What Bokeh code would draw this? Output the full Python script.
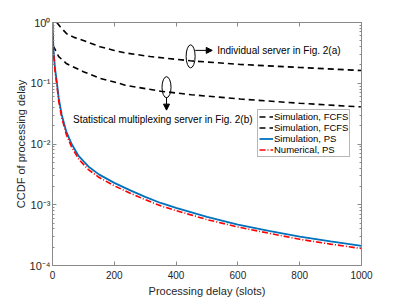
from bokeh.plotting import figure
from bokeh.models import (LinearAxis, LogAxis, Legend, LegendItem, Arrow, NormalHead,
                          Label, CustomJSTickFormatter, FixedTicker, Range1d, LogTicker)
from bokeh.embed import file_html
from bokeh.resources import INLINE

# ---- data ----
x_fcfs_ind = [14, 25, 46, 70, 100, 154, 200, 235, 316, 446, 608, 800, 1000]
ccdf_fcfs_ind = [1.0, 0.85, 0.653, 0.569, 0.507, 0.398, 0.347, 0.316, 0.275, 0.234, 0.204, 0.182, 0.162]

x_fcfs_mux = [2, 20, 46, 100, 154, 200, 235, 350, 450, 608, 800, 1000]
ccdf_fcfs_mux = [0.417, 0.275, 0.209, 0.155, 0.120, 0.105, 0.093, 0.074, 0.0646, 0.055, 0.0468, 0.0407]

x_ps = [0, 3, 8, 14, 20, 30, 45, 62, 85, 116, 150, 200, 250, 300, 350, 400, 500, 600, 700, 800, 900, 1000]
ccdf_ps_sim = [1.0, 0.372, 0.178, 0.105, 0.0575, 0.030, 0.0158, 0.0100, 0.0063, 0.00427, 0.00316, 0.00229,
               0.00174, 0.00135, 0.00107, 0.00089, 0.00063, 0.00047, 0.00037, 0.00030, 0.00025, 0.00021]
ccdf_ps_num = [1.0, 0.34, 0.16, 0.094, 0.051, 0.027, 0.0142, 0.0089, 0.0056, 0.0038, 0.00283, 0.00205,
               0.00156, 0.00121, 0.00096, 0.00080, 0.00057, 0.00043, 0.00034, 0.00027, 0.000225, 0.00019]

x_ticks = [0, 200, 400, 600, 800, 1000]
legend_labels = ["Simulation, FCFS", "Simulation, FCFS", "Simulation, PS", "Numerical, PS"]

FONT = "Liberation Sans"
AX = "#8a8a8a"
TXT = "#262626"

p = figure(width=399, height=299, x_range=Range1d(0, 1000), y_range=Range1d(1e-4, 1),
           y_axis_type="log", output_backend="svg", toolbar_location=None,
           min_border_left=52, min_border_right=38, min_border_top=22, min_border_bottom=33,
           background_fill_color="white", border_fill_color="white")
p.grid.visible = False
p.outline_line_color = AX

sup_js = """
const m = {'0':'\u2070','1':'\u00b9','2':'\u00b2','3':'\u00b3','4':'\u2074','5':'\u2075','-':'\u207b'};
const e = Math.round(Math.log10(tick)).toString();
let s = '';
for (const c of e) { s += m[c]; }
return '10' + s;
"""

def style_axis(ax):
    ax.axis_line_color = AX
    ax.major_tick_line_color = AX
    ax.minor_tick_line_color = AX
    ax.major_tick_in = 4
    ax.major_tick_out = 0
    ax.minor_tick_in = 2
    ax.minor_tick_out = 0
    ax.major_label_text_font = FONT
    ax.major_label_text_font_size = "10px"
    ax.major_label_text_color = TXT
    ax.axis_label_text_font = FONT
    ax.axis_label_text_font_style = "normal"
    ax.axis_label_text_font_size = "11px"
    ax.axis_label_text_color = TXT

xa = p.xaxis[0]
xa.ticker = FixedTicker(ticks=x_ticks)
xa.axis_label = "Processing delay (slots)"
style_axis(xa)
xa.major_label_standoff = 5
xa.axis_label_standoff = 3

ya = p.yaxis[0]
ya.ticker = LogTicker(num_minor_ticks=10)
ya.formatter = CustomJSTickFormatter(code=sup_js)
ya.axis_label = "CCDF of processing delay"
style_axis(ya)
ya.major_label_text_font_size = "11px"
ya.major_label_standoff = 2
ya.axis_label_standoff = 0

blank = "return ' ';"
top = LinearAxis(ticker=FixedTicker(ticks=x_ticks), formatter=CustomJSTickFormatter(code=blank))
style_axis(top)
top.major_label_standoff = 0
p.add_layout(top, "above")
right = LogAxis(ticker=LogTicker(num_minor_ticks=10), formatter=CustomJSTickFormatter(code=blank))
style_axis(right)
right.major_label_standoff = 0
p.add_layout(right, "right")

r1 = p.line(x_fcfs_ind, ccdf_fcfs_ind, line_color="black", line_width=1.6, line_dash="6 4")
r2 = p.line(x_fcfs_mux, ccdf_fcfs_mux, line_color="black", line_width=1.6, line_dash="6 4")
r3 = p.line(x_ps, ccdf_ps_sim, line_color="#0072BD", line_width=1.8)
r4 = p.line(x_ps, ccdf_ps_num, line_color="#FF0000", line_width=1.6, line_dash="6 2 1 2")

# annotations
p.ellipse(x=[447], y=[0.277], width=9, height=23, width_units="screen", height_units="screen",
          fill_color=None, line_color="black", line_width=1)
p.ellipse(x=[369], y=[0.086], width=9, height=21, width_units="screen", height_units="screen",
          fill_color=None, line_color="black", line_width=1)
p.add_layout(Arrow(x_start=462, y_start=0.3475, x_end=517, y_end=0.3475, line_color="black", line_width=1,
                   end=NormalHead(size=6, fill_color="black", line_color="black")))
p.add_layout(Arrow(x_start=369, y_start=0.0589, x_end=369, y_end=0.0361, line_color="black", line_width=1,
                   end=NormalHead(size=6, fill_color="black", line_color="black")))
p.add_layout(Label(x=533, y=0.3475, text="Individual server in Fig. 2(a)", text_font=FONT,
                   text_font_size="10px", text_baseline="middle", text_color="black"))
p.add_layout(Label(x=66.5, y=0.0257, text="Statistical multiplexing server in Fig. 2(b)", text_font=FONT,
                   text_font_size="10px", text_baseline="middle", text_color="black"))

legend = Legend(items=[LegendItem(label=legend_labels[0], renderers=[r1]),
                       LegendItem(label=legend_labels[1], renderers=[r2]),
                       LegendItem(label=legend_labels[2], renderers=[r3]),
                       LegendItem(label=legend_labels[3], renderers=[r4])],
                location=(205, 108))
legend.label_text_font = FONT
legend.label_text_font_size = "9.5px"
legend.label_text_color = "black"
legend.label_height = 7
legend.glyph_height = 7
legend.glyph_width = 14
legend.label_standoff = 1
legend.spacing = 0
legend.padding = 1
legend.margin = 0
legend.border_line_color = "#707070"
legend.border_line_width = 1
legend.background_fill_color = "white"
legend.background_fill_alpha = 1
p.add_layout(legend)

open("out.html", "w").write(file_html(p, INLINE))
